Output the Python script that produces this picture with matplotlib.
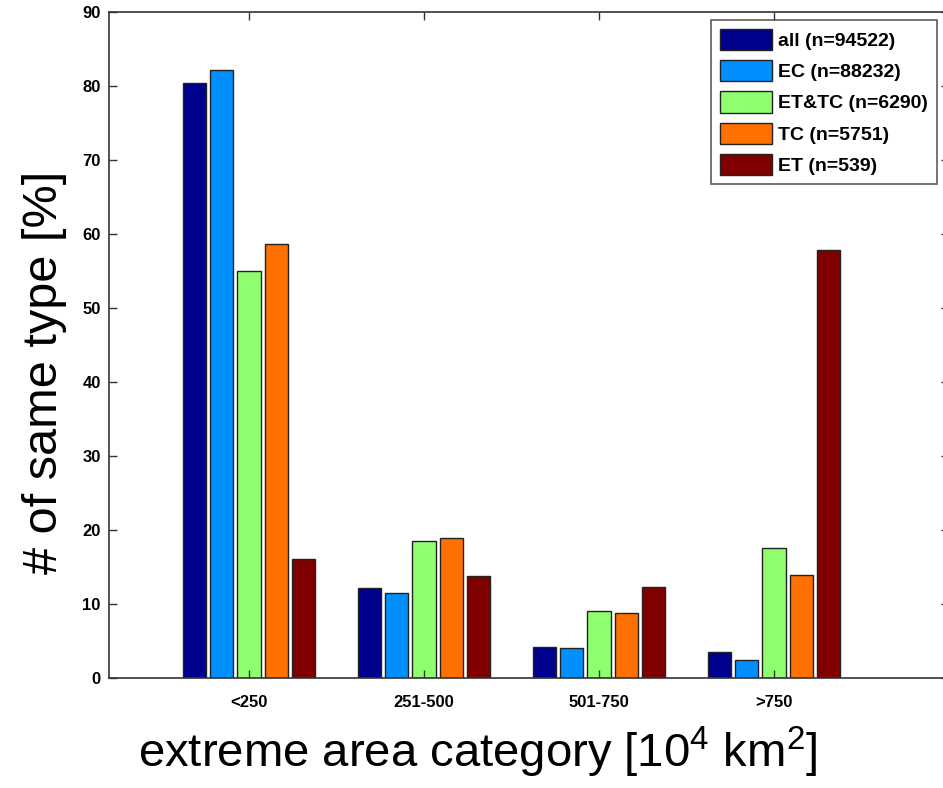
import numpy as np
import matplotlib
matplotlib.use("Agg")
import matplotlib.pyplot as plt

# Data
categories = ["<250", "251-500", "501-750", ">750"]
series_names = ["all (n=94522)", "EC (n=88232)", "ET&TC (n=6290)", "TC (n=5751)", "ET (n=539)"]
val_all = [80.4, 12.1, 4.2, 3.5]
val_ec = [82.2, 11.5, 4.0, 2.5]
val_ettc = [55.0, 18.5, 9.0, 17.6]
val_tc = [58.7, 18.9, 8.8, 13.9]
val_et = [16.1, 13.8, 12.3, 57.9]
colors = ["#00008F", "#008FFF", "#8FFF70", "#FF7000", "#800000"]

plt.rcParams['font.family'] = ['Liberation Sans', 'DejaVu Sans']
plt.rcParams['mathtext.default'] = 'regular'

fig = plt.figure(figsize=(9.43, 7.88), dpi=100)
ax = fig.add_axes([109/943, 110/788, 840/943, 666/788])

x = np.arange(1, len(categories) + 1)
step = 0.155
width = 0.132
all_vals = [val_all, val_ec, val_ettc, val_tc, val_et]
for i, (vals, c, name) in enumerate(zip(all_vals, colors, series_names)):
    ax.bar(x + (i - 2) * step, vals, width=width, color=c, edgecolor='#222222',
           linewidth=1.0, label=name)

ax.set_xlim(0.2, 5.0)
ax.set_ylim(0, 90)
ax.set_yticks(np.arange(0, 91, 10))
ax.set_xticks(x)
ax.set_xticklabels(categories)
ax.tick_params(direction='in', top=True, right=True, length=6, width=1, color='#333333')
ax.tick_params(axis='x', pad=12, labelsize=12)
ax.tick_params(axis='y', pad=6, labelsize=12)
for lab in ax.get_xticklabels() + ax.get_yticklabels():
    lab.set_fontweight('bold')
for s in ax.spines.values():
    s.set_color('#333333')
    s.set_linewidth(1.2)

# axis labels placed in figure pixels, as in the reference
fig.text(45/943, 1 - 372/788, "# of same type [%]", fontsize=35,
         rotation=90, ha='center', va='center')
fig.text(478/943, 1 - 752/788, r"extreme area category [10$^{4}$ km$^{2}$]",
         fontsize=34, ha='center', va='center')

leg = ax.legend(loc='upper left', bbox_to_anchor=(711/943, 1 - 20/788),
                bbox_transform=fig.transFigure, fontsize=14, frameon=True,
                fancybox=False, edgecolor='#333333', handlelength=2.7,
                handleheight=1.3, labelspacing=0.52, handletextpad=0.3,
                borderpad=0.45, borderaxespad=0)
leg.get_frame().set_linewidth(1.2)
for t in leg.get_texts():
    t.set_fontweight('bold')

fig.savefig("out.png", dpi=100)
